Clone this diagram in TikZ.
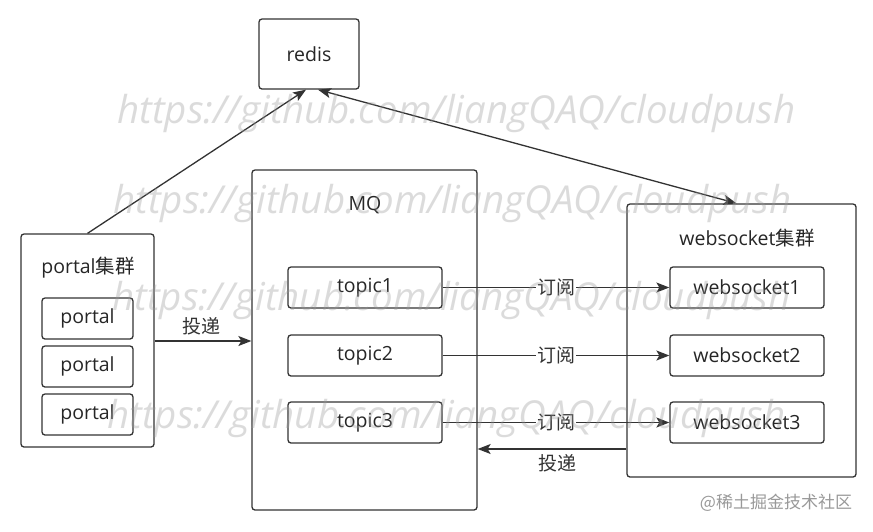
\documentclass[tikz,border=0pt]{standalone}
\usepackage{fontspec}
\setmainfont{Open Sans}
\newfontfamily\cjk{Noto Sans CJK SC}
\usetikzlibrary{arrows.meta}
\definecolor{ln}{HTML}{333333}
\definecolor{wm}{HTML}{9A9A9A}
\begin{document}
\begin{tikzpicture}[x=1pt,y=-1pt,
  box/.style={draw=ln,line width=1.3pt,rounded corners=3pt,inner sep=0pt,fill=white},
  txt/.style={inner sep=0pt,font=\fontsize{19.5}{22}\selectfont,text=black!85},
  conn/.style={draw=ln,line width=1.3pt,-{Stealth[length=13pt,width=10pt,inset=3pt]}},
  lbl/.style={inner sep=1pt,fill=white,font=\fontsize{19}{22}\selectfont\cjk,text=black!80},
  wmark/.style={anchor=base west,inner sep=0pt,text=wm,opacity=0.35,font=\fontsize{38.5}{44}\selectfont\itshape}]
\useasboundingbox (0,0) rectangle (873,531);
\fill[white] (0,0) rectangle (873,531);
% boxes
\node[box,minimum width=100pt,minimum height=70pt] (redis) at (309,54) {};
\node[txt] (redist) at (309,54) {redis};
\node[box,minimum width=225pt,minimum height=340pt] (mq) at (364.5,340) {};
\node[txt] (mqt) at (365,205) {MQ};
\node[box,minimum width=133pt,minimum height=213pt] (pc) at (87.5,340.5) {};
\node[txt] (pct) at (88,268) {portal{\cjk 集群}};
\node[box,minimum width=229pt,minimum height=273pt] (wsc) at (741.5,340.5) {};
\node[txt] (wsct) at (747,238) {websocket{\cjk 集群}};
\foreach \n/\y in {1/318.5,2/366.5,3/414.5}
  \node[box,txt,draw=ln,minimum width=91pt,minimum height=41pt] (p\n) at (87.5,\y) {portal};
\foreach \n/\y in {1/287.5,2/355.5,3/422.5}{
  \node[box,txt,draw=ln,minimum width=154pt,minimum height=41pt] (t\n) at (365,\y) {topic\n};
  \node[box,txt,draw=ln,minimum width=154pt,minimum height=41pt] (w\n) at (747,\y) {websocket\n};
}
% connectors
\draw[conn] (pc.north) -- ([xshift=-3pt]redis.south);
\draw[conn,{Stealth[length=13pt,width=10pt,inset=3pt]}-{Stealth[length=13pt,width=10pt,inset=3pt]}] ([xshift=9pt]redis.south) -- ([xshift=-5pt]wsc.north);
\draw[conn] (pc.east |- 0,341) coordinate (pa) -- (mq.west |- 0,341) coordinate (pb);
\node[lbl,fill=none] (l0) at (201,326) {投递};
\foreach \n in {1,2,3}
  \draw[conn] (t\n.east) -- node[lbl] (s\n) {订阅} (w\n.west);
\coordinate (ba) at (wsc.west |- 0,449);
\coordinate (bb) at (mq.east |- 0,449);
\draw[conn] (ba) -- (bb);
\node[lbl,fill=none] (l1) at (557,463) {投递};
% watermarks
\node[wmark] (wm1) at (117,123) {https://github.com/liangQAQ/cloudpush};
\node[wmark] (wm2) at (113,213) {https://github.com/liangQAQ/cloudpush};
\node[wmark] (wm3) at (112,310) {https://github.com/liangQAQ/cloudpush};
\node[wmark] (wm4) at (107,428) {https://github.com/liangQAQ/cloudpush};
\node[inner sep=0pt,text=black!40,font=\fontsize{17}{20}\selectfont\cjk] (jj) at (776,503) {@稀土掘金技术社区};
\end{tikzpicture}
\end{document}
